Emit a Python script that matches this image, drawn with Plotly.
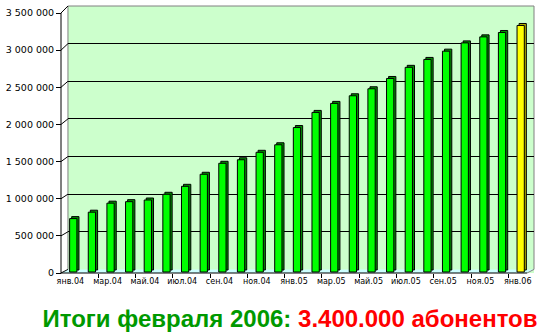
import plotly.graph_objects as go

# ---------------- data ----------------
MONTHS = ["янв.04", "фев.04", "мар.04", "апр.04", "май.04", "июн.04", "июл.04", "авг.04",
          "сен.04", "окт.04", "ноя.04", "дек.04", "янв.05", "фев.05", "мар.05", "апр.05",
          "май.05", "июн.05", "июл.05", "авг.05", "сен.05", "окт.05", "ноя.05", "дек.05", "янв.06"]
SUBSCRIBERS = [675000, 760000, 880000, 900000, 922000, 998000, 1104000, 1264000,
               1410000, 1457000, 1556000, 1656000, 1885000, 2086000, 2206000, 2307000,
               2400000, 2537000, 2685000, 2790000, 2900000, 3010000, 3090000, 3148000, 3241000]
Y_TICKS = [0, 500000, 1000000, 1500000, 2000000, 2500000, 3000000, 3500000]
X_TICK_IDX = list(range(0, len(MONTHS), 2))
X_TICK_TEXT = [MONTHS[i] for i in X_TICK_IDX]
TITLE_GREEN = "Итоги февраля 2006: "
TITLE_RED = "3.400.000 абонентов"

# ---------------- geometry / style ----------------
W, H = 541, 336
FRONT_L, WALL_L, WALL_R, WALL_T, BOTTOM = 58, 65, 534, 6, 273
BACK_ZERO = 269.4
FRONT_TOP = 13
YMAX = Y_TICKS[-1]
PW, PH = WALL_R - FRONT_L, BOTTOM - WALL_T
UNITS_PER_PX = YMAX / (BACK_ZERO - WALL_T)
Y_MIN = -(BOTTOM - BACK_ZERO) * UNITS_PER_PX
Y2_MAX = YMAX * (BOTTOM - WALL_T) / (BOTTOM - FRONT_TOP)
PITCH = (WALL_R - WALL_L) / len(MONTHS)
SHIFT = (WALL_L - FRONT_L) / PITCH

BASE_FRONT = -(272 - BACK_ZERO) * UNITS_PER_PX
LIFT = 2 * UNITS_PER_PX

def px(x):
    return (x - FRONT_L) / PW

def py(y):
    return (BOTTOM - y) / PH

def front_y(v):
    return BOTTOM - v * (BOTTOM - FRONT_TOP) / YMAX

def back_y(v):
    return BACK_ZERO - v / UNITS_PER_PX

n = len(MONTHS)
front_colors = ["#00FF00"] * (n - 1) + ["#FFFF00"]
side_colors = ["#009000"] * (n - 1) + ["#B0B000"]

fig = go.Figure()
fig.add_trace(go.Bar(
    x=MONTHS, y=[v - BASE_FRONT for v in SUBSCRIBERS], base=BASE_FRONT + LIFT,
    offset=-0.30, width=0.39,
    marker=dict(color=side_colors, line=dict(color="black", width=1)),
    hoverinfo="skip", showlegend=False))
fig.add_trace(go.Bar(
    x=MONTHS, y=[v - BASE_FRONT for v in SUBSCRIBERS], base=BASE_FRONT,
    offset=-0.41, width=0.39,
    marker=dict(color=front_colors, line=dict(color="black", width=1)),
    hovertext=[f"{m}: {v}" for m, v in zip(MONTHS, SUBSCRIBERS)], hoverinfo="text",
    showlegend=False))
# carrier trace for front (label) axes
fig.add_trace(go.Scatter(x=[0], y=[0], xaxis="x2", yaxis="y2", mode="markers",
                         marker=dict(opacity=0), hoverinfo="skip", showlegend=False))

shapes = []
# floor
shapes.append(dict(type="path", xref="paper", yref="paper",
                   path=f"M {px(FRONT_L)},{py(BOTTOM)} L {px(WALL_L)},{py(BACK_ZERO)} "
                        f"L {px(WALL_R)},{py(BACK_ZERO)} L {px(WALL_R - 7)},{py(BOTTOM)} Z",
                   fillcolor="#CCFFFF", line=dict(width=0), layer="below"))
# back wall border (grey)
for (x0, y0, x1, y1) in [(WALL_L, WALL_T, WALL_L, BACK_ZERO), (WALL_L, WALL_T, WALL_R, WALL_T),
                         (WALL_R, WALL_T, WALL_R, BACK_ZERO), (WALL_R, BACK_ZERO, WALL_R - 7, BOTTOM)]:
    shapes.append(dict(type="line", xref="paper", yref="paper",
                       x0=px(x0), y0=py(y0), x1=px(x1), y1=py(y1),
                       line=dict(color="#808080", width=1), layer="below"))
# front axes lines
shapes.append(dict(type="line", xref="paper", yref="paper",
                   x0=px(FRONT_L), y0=py(FRONT_TOP), x1=px(FRONT_L), y1=py(BOTTOM),
                   line=dict(color="black", width=1)))
shapes.append(dict(type="line", xref="paper", yref="paper",
                   x0=px(FRONT_L), y0=py(BOTTOM), x1=px(WALL_R - 7), y1=py(BOTTOM),
                   line=dict(color="black", width=1)))
# diagonal connectors from front ticks to back wall gridlines
for v in Y_TICKS:
    shapes.append(dict(type="line", xref="paper", yref="paper",
                       x0=px(FRONT_L), y0=py(front_y(v)), x1=px(WALL_L), y1=py(back_y(v)),
                       line=dict(color="black", width=1)))

fig.update_layout(
    width=W, height=H,
    margin=dict(l=FRONT_L, r=W - WALL_R, t=WALL_T, b=H - BOTTOM, pad=0),
    paper_bgcolor="white", plot_bgcolor="#CCFFCC",
    barmode="overlay", separators=". ",
    xaxis=dict(domain=[(WALL_L - FRONT_L) / PW, 1], type="category",
               range=[-0.5, n - 0.5], showticklabels=False, ticks="",
               showgrid=False, zeroline=False, showline=False, fixedrange=True),
    yaxis=dict(domain=[0, 1], range=[Y_MIN, YMAX], tickmode="array",
               tickvals=Y_TICKS[1:-1], showticklabels=False, ticks="",
               showgrid=True, gridcolor="black", gridwidth=1,
               zeroline=False, showline=False),
    xaxis2=dict(overlaying="x", anchor="y", range=[-0.5 + SHIFT, n - 0.5 + SHIFT],
                tickmode="array", tickvals=X_TICK_IDX, ticktext=X_TICK_TEXT, ticks="",
                ticklabelstandoff=2,
                tickfont=dict(family="DejaVu Sans", size=8, color="black"),
                minor=dict(tickmode="array",
                           tickvals=[i - 0.5 for i in X_TICK_IDX if i > 0],
                           ticks="outside", ticklen=4, tickcolor="black", tickwidth=1,
                           showgrid=False),
                showgrid=False, zeroline=False, showline=False),
    yaxis2=dict(overlaying="y", anchor="free", position=0, side="left",
                range=[0, Y2_MAX], tickmode="array", tickvals=Y_TICKS,
                tickformat=",d", ticks="outside", ticklen=5, tickcolor="black",
                tickfont=dict(family="DejaVu Sans", size=9.5, color="black"),
                showgrid=False, zeroline=False, showline=False),
    shapes=shapes,
    title=dict(text=f"<b><span style='color:#009900'>{TITLE_GREEN}</span>"
                    f"<span style='color:#FF0000'>{TITLE_RED}</span></b>",
               font=dict(family="Liberation Sans, Arial", size=24),
               x=290 / W, xanchor="center", xref="container",
               y=(H - 319) / H, yanchor="middle", yref="container"),
)

fig.write_html("out.html")
